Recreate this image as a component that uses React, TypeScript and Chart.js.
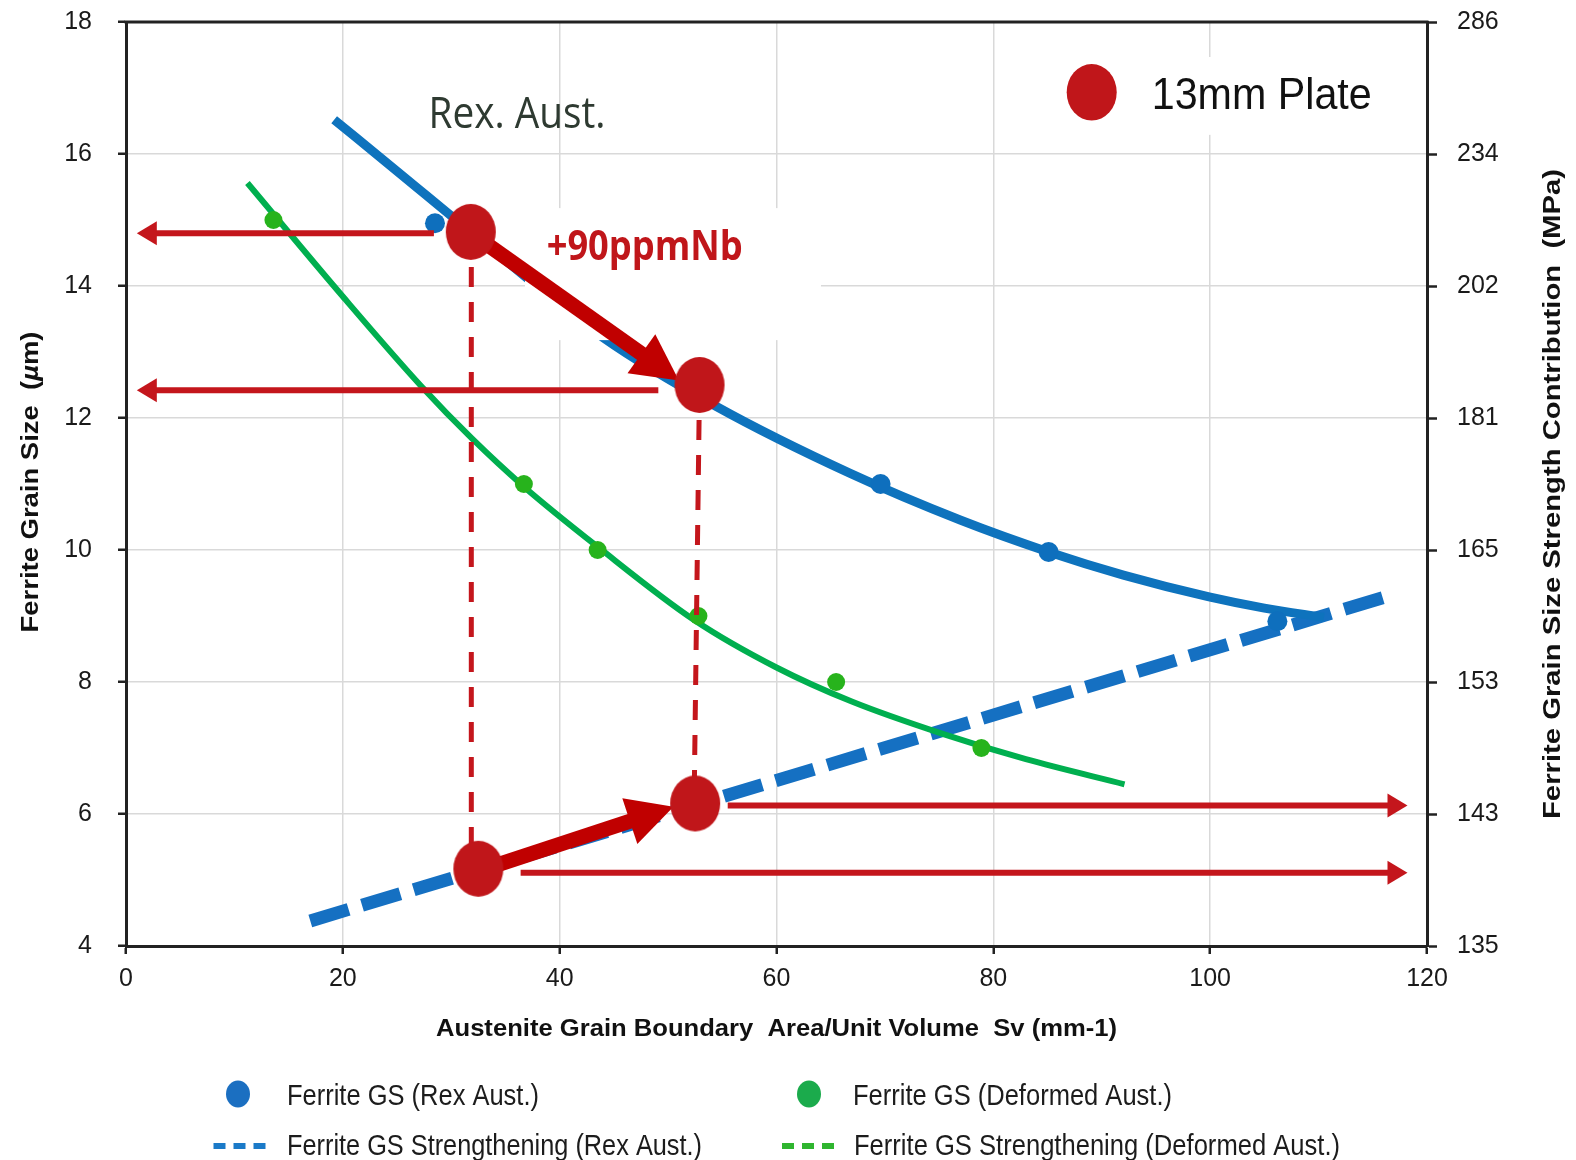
import React, { useEffect, useRef } from 'react';
import { Chart, registerables } from 'chart.js';

Chart.register(...registerables);

const W = 1576;
const H = 1160;
const FONT = '"Liberation Sans", Arial, sans-serif';

// ---- data (x = Sv mm-1, y = ferrite grain size um) ----
const svRexPoints = [28.5, 69.6, 85.1, 106.2];
const gsRexPoints = [14.95, 11.0, 9.97, 8.92];

const svDefPoints = [13.6, 36.7, 43.5, 52.8, 65.5, 78.9];
const gsDefPoints = [15.0, 11.0, 10.0, 9.0, 8.0, 7.0];

const svRexFit = [19.2, 25, 31.8, 44, 54.5, 66.8, 77, 85.1, 92, 99.9, 105, 110.5];
const gsRexFit = [16.52, 15.74, 14.82, 13.22, 12.17, 11.16, 10.45, 9.97, 9.62, 9.29, 9.12, 8.98];

const svDefFit = [11.2, 20, 27.3, 31.9, 36.7, 43.5, 52.4, 60, 67, 75.4, 83, 92.1];
const gsDefFit = [15.56, 13.84, 12.47, 11.69, 10.96, 10.05, 8.94, 8.22, 7.7, 7.21, 6.83, 6.45];

const svRexStrength = [17, 116.8];
const gsRexStrength = [4.38, 9.32];

const svPlate = [31.8, 52.9, 52.5, 32.5];
const gsPlate = [14.82, 12.5, 6.16, 5.17];

const yTicks = [4, 6, 8, 10, 12, 14, 16, 18];
const strengthLabels = ['135', '143', '153', '165', '181', '202', '234', '286'];
const xTicks = [0, 20, 40, 60, 80, 100, 120];

// annotation geometry (data coordinates)
const thinArrows = [
  { from: [28.4, 14.8], to: [1.0, 14.8] },
  { from: [49.1, 12.42], to: [1.0, 12.42] },
  { from: [55.5, 6.13], to: [118.2, 6.13] },
  { from: [36.4, 5.11], to: [118.2, 5.11] },
];
const thickArrows = [
  { from: [33.4, 14.62], to: [51.0, 12.57] },
  { from: [31.3, 5.07], to: [50.5, 6.11] },
];
const dropLines = [
  { from: [31.85, 14.82], to: [31.85, 5.17] },
  { from: [52.9, 12.5], to: [52.4, 6.16] },
];
const maskBoxes = [
  { x0: 36.8, x1: 64.1, y0: 13.18, y1: 15.18 },
  { x0: 86.2, x1: 117.6, y0: 16.29, y1: 17.47 },
];

const legendItems = [
  { label: 'Ferrite GS (Rex Aust.)', kind: 'dot', color: '#1b6fc1' },
  { label: 'Ferrite GS (Deformed Aust.)', kind: 'dot', color: '#1bab4c' },
  { label: 'Ferrite GS Strengthening (Rex Aust.)', kind: 'dash', color: '#1b7ac8' },
  { label: 'Ferrite GS Strengthening (Deformed Aust.)', kind: 'dash', color: '#2fb52f' },
];

function pts(xs: number[], ys: number[]) {
  return xs.map((x, i) => ({ x, y: ys[i] }));
}

function ellipseSprite(rx: number, ry: number, color: string) {
  const c = document.createElement('canvas');
  c.width = Math.ceil(rx * 2) + 2;
  c.height = Math.ceil(ry * 2) + 2;
  const g = c.getContext('2d')!;
  g.fillStyle = color;
  g.beginPath();
  g.ellipse(c.width / 2, c.height / 2, rx, ry, 0, 0, Math.PI * 2);
  g.fill();
  return c;
}

function fitText(ctx: CanvasRenderingContext2D, text: string, x: number, y: number, width: number,
  font: string, color: string, align: CanvasTextAlign = 'left', baseline: CanvasTextBaseline = 'alphabetic') {
  ctx.save();
  ctx.font = font;
  const w = ctx.measureText(text).width;
  const s = width / w;
  ctx.translate(x, y);
  ctx.scale(s, 1);
  ctx.textAlign = align;
  ctx.textBaseline = baseline;
  ctx.fillStyle = color;
  ctx.fillText(text, 0, 0);
  ctx.restore();
}

function arrow(ctx: CanvasRenderingContext2D, x1: number, y1: number, x2: number, y2: number,
  shaftW: number, headLen: number, headW: number, color: string) {
  const dx = x2 - x1, dy = y2 - y1;
  const len = Math.hypot(dx, dy);
  const ux = dx / len, uy = dy / len;
  const nx = -uy, ny = ux;
  const bx = x2 - ux * headLen, by = y2 - uy * headLen;
  ctx.save();
  ctx.strokeStyle = color;
  ctx.fillStyle = color;
  ctx.lineWidth = shaftW;
  ctx.lineCap = 'butt';
  ctx.beginPath();
  ctx.moveTo(x1, y1);
  ctx.lineTo(bx + ux * 2, by + uy * 2);
  ctx.stroke();
  ctx.beginPath();
  ctx.moveTo(x2, y2);
  ctx.lineTo(bx + nx * headW / 2, by + ny * headW / 2);
  ctx.lineTo(bx - nx * headW / 2, by - ny * headW / 2);
  ctx.closePath();
  ctx.fill();
  ctx.restore();
}

const annotations = {
  id: 'annotations',
  beforeDatasetDraw(chart: any, args: any) {
    if (args.index !== 0) return;
    const { ctx, scales } = chart;
    const px = (v: number) => scales.x.getPixelForValue(v);
    const py = (v: number) => scales.y.getPixelForValue(v);
    ctx.save();
    ctx.fillStyle = '#ffffff';
    maskBoxes.forEach((b) => {
      ctx.fillRect(px(b.x0), py(b.y1), px(b.x1) - px(b.x0), py(b.y0) - py(b.y1));
    });
    ctx.strokeStyle = '#c4161c';
    ctx.lineWidth = 5;
    ctx.setLineDash([20, 15]);
    dropLines.forEach((l) => {
      ctx.beginPath();
      ctx.moveTo(px(l.from[0]), py(l.from[1]));
      ctx.lineTo(px(l.to[0]), py(l.to[1]));
      ctx.stroke();
    });
    ctx.setLineDash([]);
    thinArrows.forEach((a) => {
      arrow(ctx, px(a.from[0]), py(a.from[1]), px(a.to[0]), py(a.to[1]), 6, 20, 24, '#c4161c');
    });
    thickArrows.forEach((a) => {
      arrow(ctx, px(a.from[0]), py(a.from[1]), px(a.to[0]), py(a.to[1]), 15, 46, 48, '#c00000');
    });
    ctx.restore();
  },
  afterDraw(chart: any) {
    const { ctx, chartArea: a, scales } = chart;
    const px = (v: number) => scales.x.getPixelForValue(v);
    const py = (v: number) => scales.y.getPixelForValue(v);
    ctx.save();
    ctx.strokeStyle = '#222';
    ctx.lineWidth = 3;
    ctx.beginPath();
    ctx.moveTo(a.left - 1.5, a.top);
    ctx.lineTo(a.right + 1.5, a.top);
    ctx.stroke();

    fitText(ctx, 'Rex. Aust.', px(27.9), py(16.39), 177, '44px "Open Sans"', '#2e3a31');
    fitText(ctx, '+90ppmNb', px(38.8), py(14.39), 196, 'bold 42px "Open Sans"', '#c0161a');

    ctx.fillStyle = '#c0161a';
    ctx.beginPath();
    ctx.ellipse(1091.7, 92.3, 25, 28.3, 0, 0, Math.PI * 2);
    ctx.fill();
    fitText(ctx, '13mm Plate', 1151.7, 109.3, 220, '45px ' + FONT, '#111');

    fitText(ctx, 'Austenite Grain Boundary  Area/Unit Volume  Sv (mm-1)', (a.left + a.right) / 2, 1036, 681,
      'bold 23px ' + FONT, '#111', 'center');

    ctx.save();
    ctx.translate(31.7, 482);
    ctx.rotate(-Math.PI / 2);
    const parts: [string, string][] = [
      ['Ferrite Grain Size  (', 'bold 24px ' + FONT],
      ['\u00b5', 'italic bold 24px ' + FONT],
      ['m)', 'bold 24px ' + FONT],
    ];
    let total = 0;
    const widths = parts.map(([t, f]) => { ctx.font = f; const w = ctx.measureText(t).width; total += w; return w; });
    const s = 301 / total;
    ctx.scale(s, 1);
    ctx.fillStyle = '#111';
    ctx.textBaseline = 'middle';
    ctx.textAlign = 'left';
    let cx = -total / 2;
    parts.forEach(([t, f], i) => { ctx.font = f; ctx.fillText(t, cx, 0); cx += widths[i]; });
    ctx.restore();

    ctx.save();
    ctx.translate(1553, 494);
    ctx.rotate(-Math.PI / 2);
    fitText(ctx, 'Ferrite Grain Size Strength Contribution  (MPa)', 0, 0, 650, 'bold 24px ' + FONT, '#111', 'center', 'middle');
    ctx.restore();

    const slots = [
      { mx: 238, tx: 287, base: 1105, my: 1094, w: 252 },
      { mx: 809, tx: 853, base: 1105, my: 1094, w: 319 },
      { mx: 213.5, tx: 287, base: 1155, my: 1146, w: 415 },
      { mx: 782, tx: 854, base: 1155, my: 1146, w: 486 },
    ];
    legendItems.forEach((it, i) => {
      const sl = slots[i];
      if (it.kind === 'dot') {
        ctx.fillStyle = it.color;
        ctx.beginPath();
        ctx.ellipse(sl.mx, sl.my, 12, 13.5, 0, 0, Math.PI * 2);
        ctx.fill();
      } else {
        ctx.strokeStyle = it.color;
        ctx.lineWidth = 6;
        ctx.setLineDash([12, 8]);
        ctx.beginPath();
        ctx.moveTo(sl.mx, sl.my);
        ctx.lineTo(sl.mx + 52, sl.my);
        ctx.stroke();
        ctx.setLineDash([]);
      }
      fitText(ctx, it.label, sl.tx, sl.base, sl.w, '30px ' + FONT, '#1c1c1c');
    });
    ctx.restore();
  },
};

export default function App() {
  const ref = useRef<HTMLCanvasElement>(null);
  useEffect(() => {
    const plateSprite = ellipseSprite(25, 28, '#c0161a');
    const gridCfg = { color: '#d9d9d9', lineWidth: 1.5, tickColor: '#222', tickWidth: 2.5, tickLength: 8 };
    const tickFont = { family: FONT, size: 25 };
    const noVPad = (sc: any, w: number) => { sc.width = w; sc.paddingTop = 0; sc.paddingBottom = 0; };
    const chart = new Chart(ref.current!, {
      type: 'scatter',
      data: {
        datasets: [
          {
            label: '13mm Plate',
            data: pts(svPlate, gsPlate),
            pointStyle: plateSprite as any,
            pointRadius: 26,
            showLine: false,
          },
          {
            label: 'Ferrite GS (Rex Aust.)',
            data: pts(svRexPoints, gsRexPoints),
            backgroundColor: '#0e6fbd',
            borderWidth: 0,
            pointRadius: 10,
          },
          {
            label: 'Ferrite GS (Deformed Aust.)',
            data: pts(svDefPoints, gsDefPoints),
            backgroundColor: '#27b31c',
            borderWidth: 0,
            pointRadius: 9,
          },
          {
            label: 'Rex fit',
            data: pts(svRexFit, gsRexFit),
            showLine: true,
            borderColor: '#0e73bd',
            borderWidth: 9,
            pointRadius: 0,
            cubicInterpolationMode: 'monotone',
            borderCapStyle: 'butt',
          },
          {
            label: 'Deformed fit',
            data: pts(svDefFit, gsDefFit),
            showLine: true,
            borderColor: '#00af4f',
            borderWidth: 6,
            pointRadius: 0,
            cubicInterpolationMode: 'monotone',
            borderCapStyle: 'butt',
          },
          {
            label: 'Ferrite GS Strengthening (Rex Aust.)',
            data: pts(svRexStrength, gsRexStrength),
            showLine: true,
            borderColor: '#1570c2',
            borderWidth: 13,
            borderDash: [40, 14],
            pointRadius: 0,
            borderCapStyle: 'butt',
          },
          {
            label: 'Ferrite GS Strengthening (Deformed Aust.)',
            data: [],
            showLine: true,
            borderColor: '#2fb52f',
            borderDash: [12, 8],
            pointRadius: 0,
          },
        ],
      } as any,
      options: {
        responsive: false,
        devicePixelRatio: 1,
        animation: false,
        layout: { autoPadding: false, padding: { top: 22, left: 0, right: 0, bottom: 0 } },
        plugins: { legend: { display: false }, tooltip: { enabled: false } },
        scales: {
          x: {
            type: 'linear',
            position: 'bottom',
            min: 0,
            max: 120,
            afterBuildTicks: (sc: any) => { sc.ticks = xTicks.map((v) => ({ value: v })); },
            ticks: { font: tickFont, color: '#1a1a1a', padding: 10, maxRotation: 0 },
            grid: gridCfg,
            border: { color: '#222', width: 3 },
            afterFit: (sc: any) => { sc.height = 214; sc.paddingLeft = 0; sc.paddingRight = 0; },
          },
          y: {
            type: 'linear',
            position: 'left',
            min: 4,
            max: 18,
            afterBuildTicks: (sc: any) => { sc.ticks = yTicks.map((v) => ({ value: v })); },
            ticks: { font: tickFont, color: '#1a1a1a', padding: 26 },
            grid: gridCfg,
            border: { color: '#222', width: 3 },
            afterFit: (sc: any) => noVPad(sc, 126),
          },
          y2: {
            type: 'linear',
            position: 'right',
            min: 4,
            max: 18,
            afterBuildTicks: (sc: any) => { sc.ticks = yTicks.map((v) => ({ value: v })); },
            ticks: {
              font: tickFont,
              color: '#1a1a1a',
              padding: 20,
              callback: (v: any) => strengthLabels[yTicks.indexOf(Number(v))] ?? '',
            },
            grid: { drawOnChartArea: false, tickColor: '#222', tickWidth: 2.5, tickLength: 10 },
            border: { color: '#222', width: 3 },
            afterFit: (sc: any) => noVPad(sc, 149),
          },
        },
      } as any,
      plugins: [annotations as any],
    });
    return () => chart.destroy();
  }, []);
  return (
    <div style={{ position: 'absolute', left: 0, top: 0, width: W, height: H, background: '#fff' }}>
      <canvas ref={ref} width={W} height={H} style={{ display: 'block', width: W, height: H }} />
    </div>
  );
}
